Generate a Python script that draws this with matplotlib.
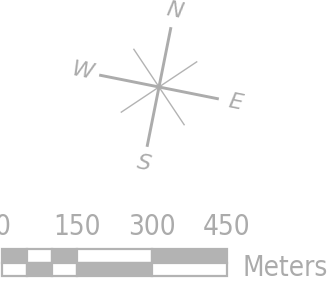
import numpy as np
import matplotlib
matplotlib.use("Agg")
import matplotlib.pyplot as plt

# compass rose
directions = ["N", "E", "S", "W"]
main_angles = [90, 0, 270, 180]          # degrees, before rotation
diag_angles = [45, 135, 225, 315]
rotation = -11.3                         # whole rose turned clockwise
main_len = 61
diag_len = 46
label_dist = 78

# scale bar
bar_ticks = [0, 50, 100, 150, 300, 450]
bar_labels = [0, 150, 300, 450]
bar_unit = "Meters"

W, H = 329, 296
gray = "#b3b3b3"
text_gray = "#ababab"

fig = plt.figure(figsize=(W / 100, H / 100), dpi=100)
fig.patch.set_facecolor("white")

# compass axes in pixel units
ax = fig.add_axes([0, 0, 1, 1])
ax.set_xlim(0, W)
ax.set_ylim(H, 0)
ax.axis("off")
cx, cy = 159, 87

for a in diag_angles:
    t = np.radians(a + rotation)
    ax.plot([cx, cx + diag_len * np.cos(t)],
            [cy, cy - diag_len * np.sin(t)], color=gray, lw=1.0,
            solid_capstyle="butt")
for a in main_angles:
    t = np.radians(a + rotation)
    ax.plot([cx, cx + main_len * np.cos(t)],
            [cy, cy - main_len * np.sin(t)], color="#acacac", lw=2.1,
            solid_capstyle="butt")
for lab, a in zip(directions, main_angles):
    t = np.radians(a + rotation)
    ax.text(cx + label_dist * np.cos(t), cy - label_dist * np.sin(t), lab,
            ha="center", va="center", fontsize=16, color=text_gray,
            rotation=rotation, rotation_mode="anchor", style="italic")

# scale bar axes in meters: 0 m at x=2px, 450 m at x=227px
x0, x1 = 2, 227
y_top, y_bot = 249, 276
bx = fig.add_axes([x0 / W, 1 - y_bot / H, (x1 - x0) / W, (y_bot - y_top) / H])
bx.set_xlim(0, 450)
bx.set_ylim(0, 2)
bx.axis("off")

lefts = bar_ticks[:-1]
widths = np.diff(bar_ticks)
for i, (l, w) in enumerate(zip(lefts, widths)):
    top_col = gray if i % 2 == 0 else "white"
    bot_col = "white" if i % 2 == 0 else gray
    bx.bar(l, 1, width=w, bottom=1, align="edge", color=top_col,
           edgecolor=gray, linewidth=1.6, clip_on=False)
    bx.bar(l, 1, width=w, bottom=0, align="edge", color=bot_col,
           edgecolor=gray, linewidth=1.6, clip_on=False)

for v in bar_labels:
    bx.text(v, 3.63, str(v), ha="center", va="center", fontsize=20,
            color=text_gray, clip_on=False, fontstretch="condensed")
bx.text(450 + 31, 0.6, bar_unit, ha="left", va="center", fontsize=20,
        color=text_gray, clip_on=False, fontstretch="condensed")

fig.savefig("out.png", dpi=100)
